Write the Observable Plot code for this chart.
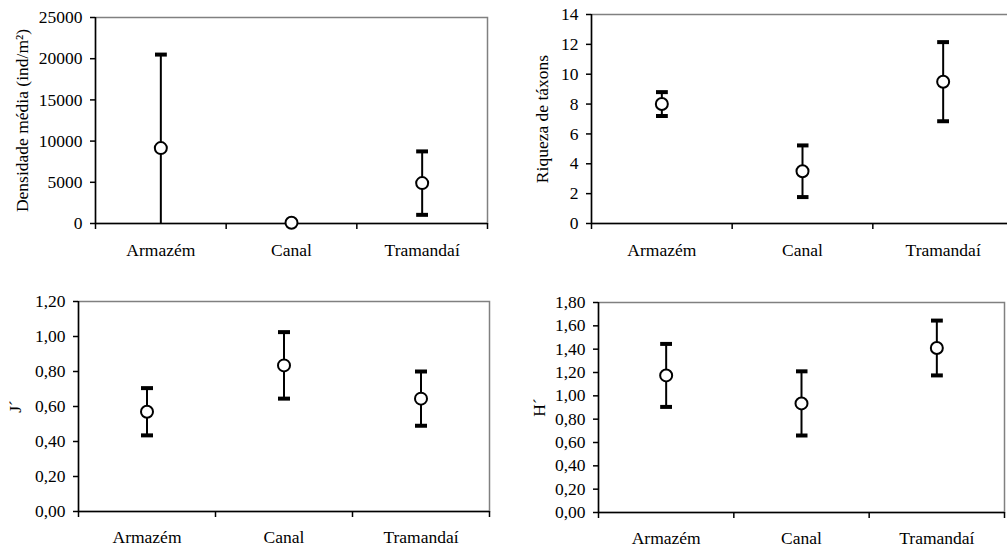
<!DOCTYPE html>
<html><head><meta charset="utf-8">
<script src="https://cdn.jsdelivr.net/npm/d3@7"></script>
<script src="https://cdn.jsdelivr.net/npm/@observablehq/plot@0.6"></script>
<style>
html,body{margin:0;padding:0;background:#fff;overflow:hidden;}
#root{position:relative;width:1007px;height:554px;overflow:hidden;background:#fff;}
.panel{position:absolute;}
</style></head><body><div id="root"></div>
<script>
const categories = ["Armazém", "Canal", "Tramandaí"];

const densMean = [9150, 100, 4900];
const densErr = [11350, 100, 3850];
const densTicks = [0, 5000, 10000, 15000, 20000, 25000];

const riqMean = [8.0, 3.5, 9.5];
const riqErr = [0.8, 1.73, 2.65];
const riqTicks = [0, 2, 4, 6, 8, 10, 12, 14];

const jMean = [0.57, 0.835, 0.645];
const jErr = [0.135, 0.19, 0.155];
const jTicks = [0, 0.2, 0.4, 0.6, 0.8, 1.0, 1.2];

const hMean = [1.175, 0.935, 1.41];
const hErr = [0.27, 0.275, 0.235];
const hTicks = [0, 0.2, 0.4, 0.6, 0.8, 1.0, 1.2, 1.4, 1.6, 1.8];

const intFmt = d => String(d);
const decFmt = d => d.toFixed(2).replace(".", ",");

function panel({mean, err, ticks, fmt, label, labelDx, left, top, width, height, margins, clip, xPad}) {
  const rows = categories.map((c, i) => ({cat: c, x: i + 0.5, mean: mean[i], lo: mean[i] - err[i], hi: mean[i] + err[i]}));
  const chart = Plot.plot({
    width, height,
    marginLeft: margins[3], marginTop: margins[0], marginRight: margins[1], marginBottom: margins[2],
    style: {fontFamily: '"Liberation Serif", "Times New Roman", serif', fontSize: "17.5px", color: "#000", background: "transparent", overflow: "visible"},
    x: {domain: [0, 3]},
    y: {domain: [ticks[0], ticks[ticks.length - 1]]},
    marks: [
      Plot.frame({stroke: "#808080", strokeWidth: 1.5}),
      Plot.axisY({ticks, tickSize: 5, tickPadding: 8, tickFormat: fmt, label: null, strokeWidth: 1.5}),
      Plot.axisX({ticks: [0, 1, 2, 3], tickSize: 6, tickFormat: () => "", label: null, strokeWidth: 1.5}),
      Plot.axisX({ticks: categories.map((c, i) => i + 0.5), tickSize: 0, tickPadding: xPad, tickFormat: d => categories[Math.floor(d)], label: null}),
      Plot.ruleX([0], {strokeWidth: 1.5}),
      Plot.ruleY([0], {strokeWidth: 1.5}),
      Plot.link(rows, {x1: "x", x2: "x", y1: "lo", y2: "hi", strokeWidth: 2, stroke: "#000", markerStart: "tick", markerEnd: "tick", clip}),
      Plot.dot(rows, {x: "x", y: "mean", r: 6, fill: "white", stroke: "#000", strokeWidth: 2}),
      Plot.text([label], {frameAnchor: "left", dx: labelDx, rotate: -90, textAnchor: "middle", lineAnchor: "middle", fontSize: 17.5, fill: "#000"})
    ]
  });
  chart.classList.add("panel");
  chart.style.left = left + "px";
  chart.style.top = top + "px";
  document.getElementById("root").appendChild(chart);
}

panel({mean: densMean, err: densErr, ticks: densTicks, fmt: intFmt, label: "Densidade média (ind/m²)", labelDx: -73,
  left: 0, top: 0, width: 500, height: 270, margins: [17, 13, 47, 95], clip: true, xPad: 20});
panel({mean: riqMean, err: riqErr, ticks: riqTicks, fmt: intFmt, label: "Riqueza de táxons", labelDx: -49,
  left: 500, top: 0, width: 520, height: 270, margins: [14, 7, 47, 91], clip: false, xPad: 20});
panel({mean: jMean, err: jErr, ticks: jTicks, fmt: decFmt, label: "J´", labelDx: -63,
  left: 0, top: 270, width: 500, height: 284, margins: [31, 11, 43, 78], clip: false, xPad: 19});
panel({mean: hMean, err: hErr, ticks: hTicks, fmt: decFmt, label: "H´", labelDx: -59,
  left: 500, top: 270, width: 507, height: 284, margins: [32, 3, 42, 98], clip: false, xPad: 19});
</script>
</body></html>
